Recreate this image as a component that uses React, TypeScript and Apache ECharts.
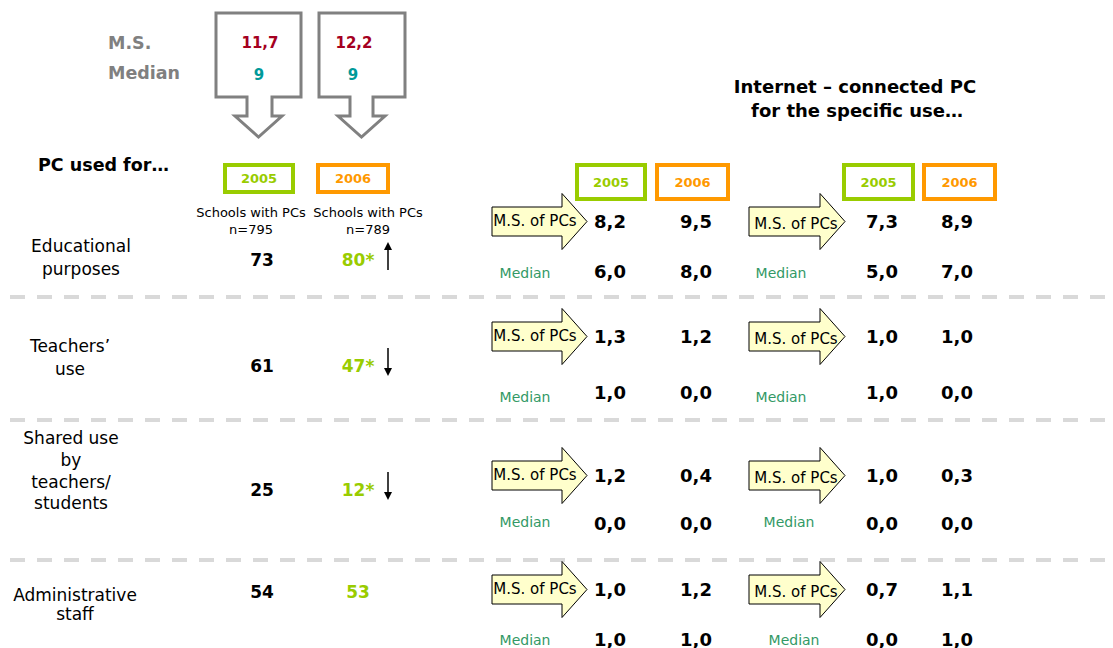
import React, { useEffect, useRef } from "react";
import * as echarts from "echarts";

// ---- data ----
const years = ["2005", "2006"];
const sampleN = [795, 789];
const totalMS = [11.7, 12.2];
const totalMedian = [9, 9];
const rowLabels = [
  ["Educational", "purposes"],
  ["Teachers’", "use"],
  ["Shared use", "by", "teachers/", "students"],
  ["Administrative", "staff"],
];
const share2005 = [73, 61, 25, 54];
const share2006 = [80, 47, 12, 53];
const significant = [true, true, true, false];
const trend = ["up", "down", "down", ""];
const msPc2005 = [8.2, 1.3, 1.2, 1.0];
const msPc2006 = [9.5, 1.2, 0.4, 1.2];
const medPc2005 = [6.0, 1.0, 0.0, 1.0];
const medPc2006 = [8.0, 0.0, 0.0, 1.0];
const msNet2005 = [7.3, 1.0, 1.0, 0.7];
const msNet2006 = [8.9, 1.0, 0.3, 1.1];
const medNet2005 = [5.0, 1.0, 0.0, 0.0];
const medNet2006 = [7.0, 0.0, 0.0, 1.0];

// ---- layout ----
const rowLabelY = [[246, 269], [346, 369], [438, 460, 482, 503], [595, 614]];
const rowLabelX = [81, 70, 71, 75];
const shareY = [260, 366, 490, 592];
const msY = [221, 336, 475, 589];
const medValY = [271, 392, 523, 639];
const medLabY = [273, 397, 522, 640];
const medLabRightX = [781, 781, 789, 794];
const sepY = [297, 420, 560];

const GREEN = "#99cc00";
const ORANGE = "#ff9900";
const MEDGREEN = "#339966";
const GRAY = "#808080";
const FF = "'DejaVu Sans', Verdana, sans-serif";

const fmt = (v: number) => v.toFixed(1).replace(".", ",");

function txt(x: number, y: number, text: string, size: number, color: string, bold = false, align = "center") {
  return {
    type: "text",
    x,
    y,
    silent: true,
    style: {
      text,
      fill: color,
      font: `${bold ? "bold " : ""}${size}px ${FF}`,
      textAlign: align,
      textVerticalAlign: "middle",
    },
  };
}

function yellowArrow(x0: number, bodyEnd: number, tip: number, cy: number) {
  return {
    type: "polygon",
    silent: true,
    shape: {
      points: [
        [x0, cy - 14.5],
        [bodyEnd, cy - 14.5],
        [bodyEnd, cy - 28],
        [tip, cy],
        [bodyEnd, cy + 28],
        [bodyEnd, cy + 14.5],
        [x0, cy + 14.5],
      ],
    },
    style: { fill: "#ffffcc", stroke: "#000", lineWidth: 1 },
  };
}

function bigArrow(l: number, r: number, sl: number, sr: number, hl: number, hr: number) {
  const tip = (hl + hr) / 2;
  return {
    type: "polygon",
    silent: true,
    shape: {
      points: [
        [l, 13],
        [r, 13],
        [r, 97],
        [sr, 97],
        [sr, 116],
        [hr, 116],
        [tip, 137],
        [hl, 116],
        [sl, 116],
        [sl, 97],
        [l, 97],
      ],
    },
    style: { fill: "#fff", stroke: GRAY, lineWidth: 3 },
  };
}

function yearBox(x1: number, x2: number, y1: number, y2: number, color: string, label: string) {
  return [
    {
      type: "rect",
      silent: true,
      shape: { x: x1 + 2, y: y1 + 2, width: x2 - x1 - 4, height: y2 - y1 - 4 },
      style: { fill: "#fff", stroke: color, lineWidth: 4 },
    },
    txt((x1 + x2) / 2, (y1 + y2) / 2, label, 13, color, true),
  ];
}

function smallArrow(x: number, y1: number, y2: number, dir: string) {
  const els: any[] = [];
  if (dir === "up") {
    els.push({ type: "line", silent: true, shape: { x1: x, y1: y2, x2: x, y2: y1 + 6 }, style: { stroke: "#000", lineWidth: 1.5 } });
    els.push({ type: "polygon", silent: true, shape: { points: [[x - 4, y1 + 8], [x + 4, y1 + 8], [x, y1]] }, style: { fill: "#000" } });
  } else {
    els.push({ type: "line", silent: true, shape: { x1: x, y1: y1, x2: x, y2: y2 - 6 }, style: { stroke: "#000", lineWidth: 1.5 } });
    els.push({ type: "polygon", silent: true, shape: { points: [[x - 4, y2 - 8], [x + 4, y2 - 8], [x, y2]] }, style: { fill: "#000" } });
  }
  return els;
}

function buildGraphic() {
  const g: any[] = [];
  // top big arrows
  g.push(bigArrow(216, 301, 247, 272, 235, 282));
  g.push(bigArrow(319, 405, 350, 373, 338, 385));
  g.push(txt(108, 43, "M.S.", 17.5, GRAY, true, "left"));
  g.push(txt(108, 73, "Median", 17.5, GRAY, true, "left"));
  const bigCx = [260, 354];
  totalMS.forEach((v, i) => {
    g.push(txt(bigCx[i], 43, fmt(v), 15, "#a50021", true));
    g.push(txt(bigCx[i] - 1, 75, String(totalMedian[i]), 15, "#009999", true));
  });

  g.push(txt(38, 165, "PC used for…", 17.5, "#000", true, "left"));
  g.push(txt(855, 86, "Internet – connected PC", 18, "#000", true));
  g.push(txt(857, 110, "for the specific use…", 18, "#000", true));

  // year boxes
  const colors = [GREEN, ORANGE];
  const leftBoxes = [[223, 295], [316, 390]];
  const midBoxes = [[575, 647], [655, 730]];
  const rightBoxes = [[842, 915], [922, 997]];
  years.forEach((y, i) => {
    g.push(...yearBox(leftBoxes[i][0], leftBoxes[i][1], 163, 194, colors[i], y));
    g.push(...yearBox(midBoxes[i][0], midBoxes[i][1], 163, 201, colors[i], y));
    g.push(...yearBox(rightBoxes[i][0], rightBoxes[i][1], 163, 201, colors[i], y));
  });
  const schoolX = [251, 368];
  sampleN.forEach((n, i) => {
    g.push(txt(schoolX[i], 212, "Schools with PCs", 13, "#000"));
    g.push(txt(schoolX[i], 229, "n=" + n, 13, "#000"));
  });

  // separators
  sepY.forEach((y) => {
    g.push({
      type: "line",
      silent: true,
      shape: { x1: 10, y1: y, x2: 1113, y2: y },
      style: { stroke: "#d9d9d9", lineWidth: 4, lineDash: [15, 12] },
    });
  });

  // rows
  rowLabels.forEach((lines, r) => {
    lines.forEach((t, k) => g.push(txt(rowLabelX[r], rowLabelY[r][k], t, 17, "#000")));
    g.push(txt(262, shareY[r], String(share2005[r]), 17, "#000", true));
    g.push(txt(358, shareY[r], share2006[r] + (significant[r] ? "*" : ""), 17, GREEN, true));
    if (trend[r]) g.push(...smallArrow(388, shareY[r] - 18, shareY[r] + 10, trend[r]));

    // PC section
    g.push(yellowArrow(492, 562, 587, msY[r] + 0.5));
    g.push(txt(535, msY[r], "M.S. of PCs", 15, "#000"));
    g.push(txt(610, msY[r], fmt(msPc2005[r]), 18, "#000", true));
    g.push(txt(696, msY[r], fmt(msPc2006[r]), 18, "#000", true));
    g.push(txt(525, medLabY[r], "Median", 14, MEDGREEN));
    g.push(txt(610, medValY[r], fmt(medPc2005[r]), 18, "#000", true));
    g.push(txt(696, medValY[r], fmt(medPc2006[r]), 18, "#000", true));

    // Internet section
    g.push(yellowArrow(749, 820, 845, msY[r] + 0.5));
    g.push(txt(796, msY[r] + 3, "M.S. of PCs", 15, "#000"));
    g.push(txt(882, msY[r], fmt(msNet2005[r]), 18, "#000", true));
    g.push(txt(957, msY[r], fmt(msNet2006[r]), 18, "#000", true));
    g.push(txt(medLabRightX[r], medLabY[r], "Median", 14, MEDGREEN));
    g.push(txt(882, medValY[r], fmt(medNet2005[r]), 18, "#000", true));
    g.push(txt(957, medValY[r], fmt(medNet2006[r]), 18, "#000", true));
  });
  return g;
}

export default function App() {
  const ref = useRef<HTMLDivElement>(null);
  useEffect(() => {
    document.body.style.margin = "0";
    if (!ref.current) return;
    const chart = echarts.init(ref.current, undefined, { renderer: "svg" });
    chart.setOption({
      animation: false,
      backgroundColor: "#fff",
      graphic: { elements: buildGraphic() },
    });
    return () => chart.dispose();
  }, []);
  return <div ref={ref} style={{ width: 1113, height: 648 }} />;
}
